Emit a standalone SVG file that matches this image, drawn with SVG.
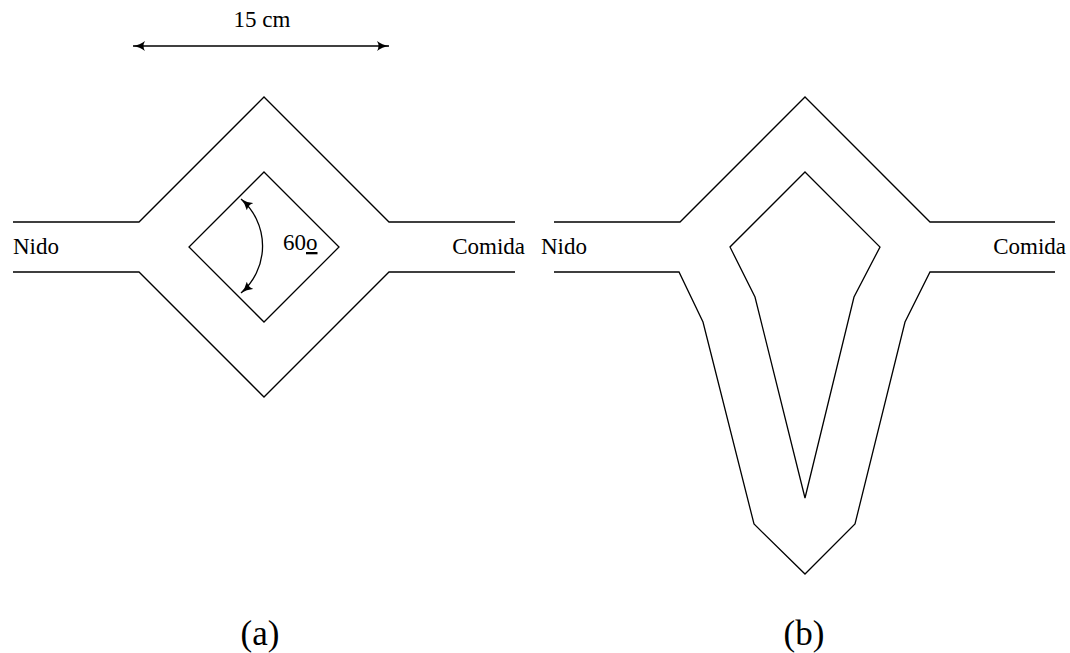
<svg xmlns="http://www.w3.org/2000/svg" width="1070" height="653" viewBox="0 0 1070 653">
<defs>
<style>
.ln{fill:none;stroke:#000;stroke-width:1.3;stroke-linejoin:miter}
.t{font-family:"Liberation Serif","DejaVu Serif",serif;font-size:23px;fill:#000}
.cap{font-family:"Liberation Serif","DejaVu Serif",serif;font-size:35px;fill:#000;text-anchor:middle}
</style>
<marker id="ah" viewBox="0 0 13 10" refX="12" refY="5" markerWidth="13" markerHeight="10" markerUnits="userSpaceOnUse" orient="auto-start-reverse">
<path d="M0,0 Q5,4 12,5 Q5,6 0,10 Q3,5 0,0 Z" fill="#000"/>
</marker>
</defs>
<rect width="1070" height="653" fill="#fff"/>
<g id="dimension">
<line class="ln" x1="133" y1="46" x2="389" y2="46" marker-start="url(#ah)" marker-end="url(#ah)"/>
<text class="t" x="262" y="27" text-anchor="middle">15 cm</text>
</g>
<g id="maze-a">
<polyline class="ln" points="13,222 139,222 264,97 389,222 515,222"/>
<polyline class="ln" points="13,272 139,272 264,397 389,272 515,272"/>
<polygon class="ln" points="264,172 339,247 264,322 189,247"/>
<text class="t" x="13" y="254">Nido</text>
<text class="t" x="525" y="254" text-anchor="end">Comida</text>
</g>
<g id="angle">
<path class="ln" d="M241,199 A62,62 0 0 1 241,293" marker-start="url(#ah)" marker-end="url(#ah)"/>
<text class="t" x="283" y="250">60<tspan text-decoration="underline">o</tspan></text>
</g>
<g id="maze-b">
<polyline class="ln" points="554,222 680,222 805,97 930,222 1055,222"/>
<polyline class="ln" points="554,272 679,272 703,322 754,524 805,574 855,524 905,322 930,272 1055,272"/>
<polygon class="ln" points="805,172 880,247 854,297 805,498 755,297 730,247"/>
<text class="t" x="541" y="254">Nido</text>
<text class="t" x="1066" y="254" text-anchor="end">Comida</text>
</g>
<g id="captions">
<text class="cap" x="260" y="645">(a)</text>
<text class="cap" x="804" y="645">(b)</text>
</g>
</svg>
